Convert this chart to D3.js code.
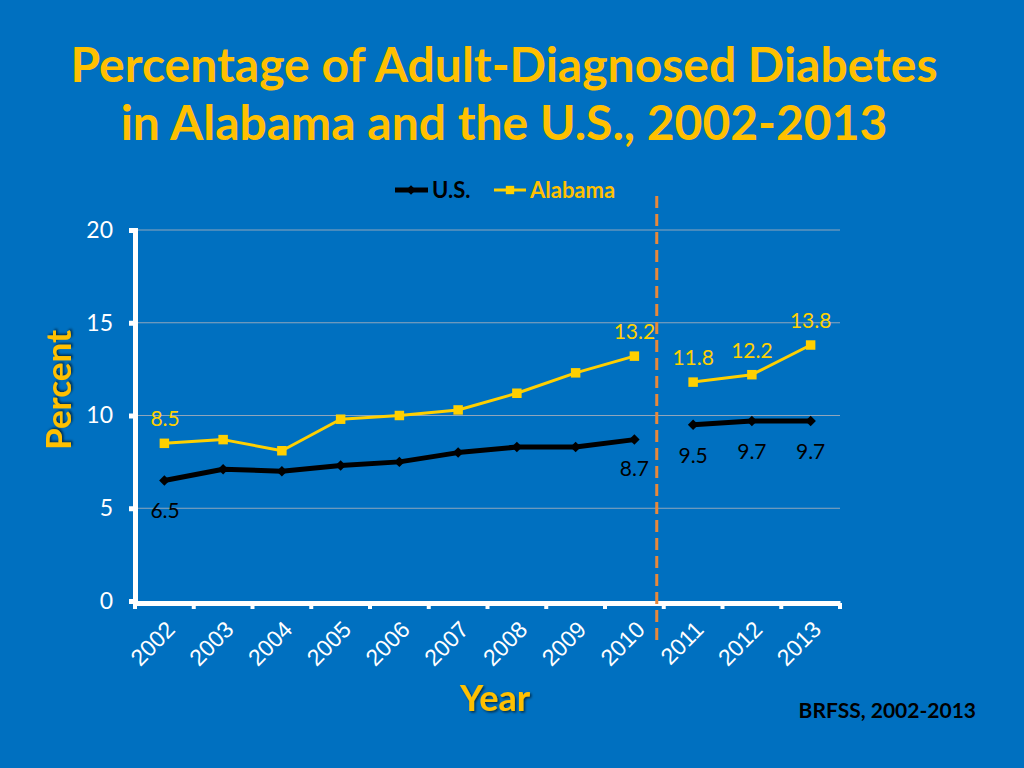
<!DOCTYPE html>
<html>
<head>
<meta charset="utf-8">
<script src="https://cdn.jsdelivr.net/npm/d3@7"></script>
<style>
  body { margin: 0; background: #0070C0; }
  svg { display: block; font-family: Lato, "Open Sans", sans-serif; }
</style>
</head>
<body>
<script>
// data
var years = [2002, 2003, 2004, 2005, 2006, 2007, 2008, 2009, 2010, 2011, 2012, 2013];
var usValues = [6.5, 7.1, 7.0, 7.3, 7.5, 8.0, 8.3, 8.3, 8.7, 9.5, 9.7, 9.7];
var alValues = [8.5, 8.7, 8.1, 9.8, 10.0, 10.3, 11.2, 12.3, 13.2, 11.8, 12.2, 13.8];
var yTicks = [0, 5, 10, 15, 20];
var breakYear = 2011; // methodology change, lines not joined across it
var usLabelled = [2002, 2010, 2011, 2012, 2013];
var alLabelled = [2002, 2010, 2011, 2012, 2013];

var svg = d3.select("body").append("svg")
  .attr("width", 1024)
  .attr("height", 768);

svg.append("rect").attr("width", 1024).attr("height", 768).attr("fill", "#0070C0");

var defs = svg.append("defs");
var sh = defs.append("filter").attr("id", "shadow");
sh.append("feDropShadow").attr("dx", 1.5).attr("dy", 1.5).attr("stdDeviation", 0.8)
  .attr("flood-color", "#000").attr("flood-opacity", 0.6);

// title
var title = svg.append("text")
  .attr("x", 504).attr("text-anchor", "middle")
  .attr("fill", "#FFC000").attr("font-weight", "bold").attr("font-size", 48);
title.append("tspan").attr("x", 504).attr("y", 82).text("Percentage of Adult-Diagnosed Diabetes");
title.append("tspan").attr("x", 504).attr("y", 140).text("in Alabama and the U.S., 2002-2013");

var x = d3.scaleBand().domain(years).range([135, 840]);
var y = d3.scaleLinear().domain([0, 20]).range([601, 230]);
var cx = function (yr) { return x(yr) + x.bandwidth() / 2; };

// gridlines
svg.append("g").selectAll("line")
  .data(yTicks.filter(function (d) { return d > 0; }))
  .enter().append("line")
  .attr("x1", 135).attr("x2", 840)
  .attr("y1", function (d) { return y(d); })
  .attr("y2", function (d) { return y(d); })
  .attr("stroke", "#8FA6BC").attr("stroke-width", 1);

// y axis
var yAxis = svg.append("g").attr("transform", "translate(135,0)")
  .call(d3.axisLeft(y).tickValues(yTicks).tickSize(6).tickPadding(16));
yAxis.select(".domain").attr("stroke", "#fff").attr("stroke-width", 5);
yAxis.selectAll(".tick line").attr("stroke", "#fff").attr("stroke-width", 5);
yAxis.selectAll("text").attr("fill", "#fff").attr("font-size", 23)
  .attr("font-family", "Lato, sans-serif");

// x axis
var xAxis = svg.append("g").attr("transform", "translate(0,603)")
  .call(d3.axisBottom(x).tickSize(0).tickFormat(""));
xAxis.select(".domain").attr("stroke", "#fff").attr("stroke-width", 5);
var edges = years.map(function (yr) { return x(yr); }).concat([840]);
xAxis.selectAll(".edge").data(edges).enter().append("line")
  .attr("x1", function (d) { return d; }).attr("x2", function (d) { return d; })
  .attr("y1", 0).attr("y2", 6)
  .attr("stroke", "#fff").attr("stroke-width", 4);
xAxis.selectAll(".yr").data(years).enter().append("text")
  .attr("transform", function (d) { return "translate(" + (cx(d) + 12) + ",28) rotate(-45)"; })
  .attr("text-anchor", "end")
  .attr("fill", "#fff").attr("font-size", 23)
  .text(function (d) { return d; });

// axis titles
svg.append("text")
  .attr("x", 495).attr("y", 711).attr("text-anchor", "middle")
  .attr("fill", "#FFC000").attr("font-weight", "bold").attr("font-size", 36)
  .attr("filter", "url(#shadow)").text("Year");
svg.append("text")
  .attr("transform", "translate(71,390) rotate(-90)").attr("text-anchor", "middle")
  .attr("fill", "#FFC000").attr("font-weight", "bold").attr("font-size", 35)
  .attr("filter", "url(#shadow)").text("Percent");

// dashed separator
svg.append("line")
  .attr("x1", x(breakYear) - 7).attr("x2", x(breakYear) - 7)
  .attr("y1", 196).attr("y2", 646)
  .attr("stroke", "#E8883A").attr("stroke-width", 3)
  .attr("stroke-dasharray", "12,6");

// series
var line = d3.line().x(function (d) { return cx(d.year); }).y(function (d) { return y(d.v); });

function drawSeries(values, color, width, markSize, diamond) {
  var pts = years.map(function (yr, i) { return { year: yr, v: values[i] }; });
  var parts = [
    pts.filter(function (d) { return d.year < breakYear; }),
    pts.filter(function (d) { return d.year >= breakYear; })
  ];
  var g = svg.append("g");
  g.selectAll("path.l").data(parts).enter().append("path")
    .attr("d", line).attr("fill", "none")
    .attr("stroke", color).attr("stroke-width", width).attr("stroke-linejoin", "round");
  g.selectAll("path.m").data(pts).enter().append("path")
    .attr("d", d3.symbol().type(d3.symbolSquare).size(markSize))
    .attr("transform", function (d) { return "translate(" + cx(d.year) + "," + y(d.v) + ")" + (diamond ? " rotate(45)" : ""); })
    .attr("fill", color);
  return pts;
}

var usPts = drawSeries(usValues, "#000", 5, 55, true);
var alPts = drawSeries(alValues, "#FFD000", 3, 90, false);

// data labels
svg.selectAll(".usl").data(usPts.filter(function (d) { return usLabelled.indexOf(d.year) >= 0; }))
  .enter().append("text")
  .attr("x", function (d) { return d.year === 2002 ? cx(d.year) - 14 : cx(d.year); })
  .attr("y", function (d) { return d.year === 2010 ? y(d.v) + 36 : y(d.v) + 38; })
  .attr("text-anchor", function (d) { return d.year === 2002 ? "start" : "middle"; })
  .attr("fill", "#000").attr("font-size", 21)
  .text(function (d) { return d3.format(".1f")(d.v); });

svg.selectAll(".all").data(alPts.filter(function (d) { return alLabelled.indexOf(d.year) >= 0; }))
  .enter().append("text")
  .attr("x", function (d) { return d.year === 2002 ? cx(d.year) - 14 : cx(d.year); })
  .attr("y", function (d) { return y(d.v) - 17; })
  .attr("text-anchor", function (d) { return d.year === 2002 ? "start" : "middle"; })
  .attr("fill", "#FFD000").attr("font-size", 21)
  .text(function (d) { return d3.format(".1f")(d.v); });

// legend
var lg = svg.append("g").attr("transform", "translate(395,190)");
lg.append("line").attr("x1", 0).attr("x2", 33).attr("stroke", "#000").attr("stroke-width", 5);
lg.append("path").attr("d", d3.symbol().type(d3.symbolSquare).size(45)())
  .attr("transform", "translate(16,0) rotate(45)").attr("fill", "#000");
lg.append("text").attr("x", 37).attr("y", 8).attr("fill", "#000")
  .attr("font-weight", "bold").attr("font-size", 22).text("U.S.");
lg.append("line").attr("x1", 99).attr("x2", 131).attr("stroke", "#FFD000").attr("stroke-width", 3);
lg.append("path").attr("d", d3.symbol().type(d3.symbolSquare).size(70)())
  .attr("transform", "translate(115,0)").attr("fill", "#FFD000");
lg.append("text").attr("x", 135).attr("y", 8).attr("fill", "#FFC000")
  .attr("font-weight", "bold").attr("font-size", 22).text("Alabama");

// source
svg.append("text").attr("x", 976).attr("y", 718).attr("text-anchor", "end")
  .attr("fill", "#000").attr("font-weight", "bold").attr("font-size", 21)
  .text("BRFSS, 2002-2013");
</script>
</body>
</html>
